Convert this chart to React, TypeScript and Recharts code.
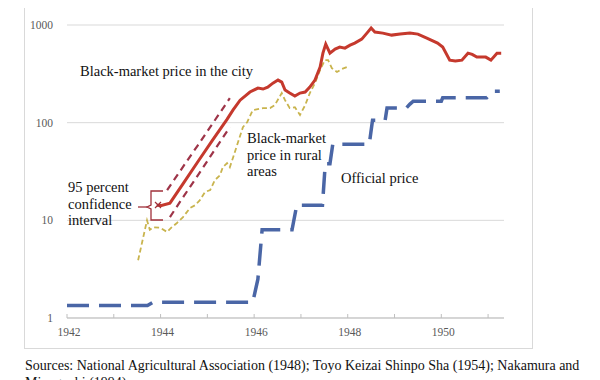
import React from "react"
import { CartesianGrid, Line, LineChart, XAxis, YAxis } from "recharts"

type Pt = { t: number, v: number }

const xTicks = [1942, 1943, 1944, 1945, 1946, 1947, 1948, 1949, 1950, 1951]
const yTicks = [1, 10, 100, 1000]

// black-market price in the city
const cityPrice: Pt[] = [
    { t: 1943.92, v: 14.3 }, { t: 1944.02, v: 14.2 }, { t: 1944.2, v: 15.0 },
    { t: 1944.5, v: 24.5 }, { t: 1944.8, v: 40 }, { t: 1945.1, v: 65 },
    { t: 1945.42, v: 108 }, { t: 1945.55, v: 135 }, { t: 1945.7, v: 170 },
    { t: 1945.91, v: 206 }, { t: 1946.08, v: 226 }, { t: 1946.19, v: 221 },
    { t: 1946.29, v: 231 }, { t: 1946.4, v: 254 }, { t: 1946.51, v: 273 },
    { t: 1946.59, v: 260 }, { t: 1946.66, v: 216 }, { t: 1946.76, v: 201 },
    { t: 1946.87, v: 187 }, { t: 1946.98, v: 201 }, { t: 1947.09, v: 206 },
    { t: 1947.19, v: 231 }, { t: 1947.3, v: 273 }, { t: 1947.41, v: 371 },
    { t: 1947.47, v: 515 }, { t: 1947.53, v: 638 }, { t: 1947.62, v: 515 },
    { t: 1947.73, v: 567 }, { t: 1947.83, v: 594 }, { t: 1947.94, v: 580 },
    { t: 1948.05, v: 622 }, { t: 1948.15, v: 653 }, { t: 1948.3, v: 717 },
    { t: 1948.41, v: 826 }, { t: 1948.5, v: 930 }, { t: 1948.58, v: 846 },
    { t: 1948.75, v: 826 }, { t: 1948.94, v: 788 }, { t: 1949.12, v: 807 },
    { t: 1949.33, v: 826 }, { t: 1949.5, v: 807 }, { t: 1949.69, v: 734 },
    { t: 1949.92, v: 653 }, { t: 1950.03, v: 594 }, { t: 1950.18, v: 437 },
    { t: 1950.3, v: 427 }, { t: 1950.44, v: 437 }, { t: 1950.57, v: 515 },
    { t: 1950.66, v: 500 }, { t: 1950.76, v: 469 }, { t: 1950.95, v: 469 },
    { t: 1951.06, v: 437 }, { t: 1951.19, v: 515 }, { t: 1951.28, v: 515 },
]

// 95 percent confidence interval
const ciUpper: Pt[] = [
    { t: 1944.14, v: 20.4 }, { t: 1944.5, v: 36.5 }, { t: 1944.8, v: 59 },
    { t: 1945.1, v: 96 }, { t: 1945.48, v: 178 },
]
const ciLower: Pt[] = [
    { t: 1944.2, v: 10.8 }, { t: 1944.5, v: 17.8 }, { t: 1944.8, v: 29 },
    { t: 1945.1, v: 48 }, { t: 1945.48, v: 90 },
]

// black-market price in rural areas
const ruralPrice: Pt[] = [
    { t: 1943.52, v: 3.9 }, { t: 1943.71, v: 10.0 }, { t: 1943.77, v: 8.0 },
    { t: 1943.84, v: 8.5 }, { t: 1943.99, v: 8.4 }, { t: 1944.14, v: 7.6 },
    { t: 1944.24, v: 8.5 }, { t: 1944.35, v: 9.4 }, { t: 1944.48, v: 10.8 },
    { t: 1944.63, v: 13.4 }, { t: 1944.74, v: 14.3 }, { t: 1944.84, v: 16.1 },
    { t: 1944.95, v: 19.5 }, { t: 1945.06, v: 20.4 }, { t: 1945.16, v: 25.8 },
    { t: 1945.27, v: 29 }, { t: 1945.33, v: 35 }, { t: 1945.42, v: 38.5 },
    { t: 1945.48, v: 35 }, { t: 1945.55, v: 44 }, { t: 1945.65, v: 62 },
    { t: 1945.76, v: 90 }, { t: 1945.85, v: 101 }, { t: 1945.97, v: 134 },
    { t: 1946.19, v: 141 }, { t: 1946.34, v: 141 }, { t: 1946.44, v: 151 },
    { t: 1946.59, v: 201 }, { t: 1946.66, v: 170 }, { t: 1946.76, v: 141 },
    { t: 1946.87, v: 144 }, { t: 1946.98, v: 120 }, { t: 1947.09, v: 151 },
    { t: 1947.19, v: 201 }, { t: 1947.3, v: 254 }, { t: 1947.41, v: 347 },
    { t: 1947.51, v: 437 }, { t: 1947.58, v: 437 }, { t: 1947.66, v: 362 },
    { t: 1947.77, v: 330 }, { t: 1947.88, v: 355 }, { t: 1947.98, v: 371 },
]

// official price
const officialPrice: Pt[] = [
    { t: 1942.0, v: 1.34 }, { t: 1943.72, v: 1.34 }, { t: 1943.84, v: 1.45 },
    { t: 1945.97, v: 1.45 }, { t: 1946.08, v: 2.5 }, { t: 1946.17, v: 8 },
    { t: 1946.81, v: 8 }, { t: 1946.91, v: 14.3 }, { t: 1947.46, v: 14.3 },
    { t: 1947.52, v: 38 }, { t: 1947.62, v: 38 }, { t: 1947.68, v: 60 },
    { t: 1948.46, v: 60 }, { t: 1948.53, v: 106 }, { t: 1948.8, v: 106 },
    { t: 1948.84, v: 141 }, { t: 1949.25, v: 141 }, { t: 1949.33, v: 155 },
    { t: 1949.4, v: 166 }, { t: 1950.0, v: 166 }, { t: 1950.03, v: 180 },
    { t: 1950.97, v: 180 }, { t: 1951.1, v: 210 }, { t: 1951.25, v: 210 },
]

const font = "Liberation Serif, DejaVu Serif, serif"

const XTick = (props: any) => {
    const { x, y, payload } = props
    return (
        <g>
            <line x1={x} x2={x} y1={y - 4} y2={y} stroke="#bfbfbf" />
            {payload.value % 2 === 0 &&
                <text x={x + 2} y={y + 18} textAnchor="middle" fill="#595959"
                    style={{ fontFamily: font, fontSize: 11.5 }}>
                    {payload.value}
                </text>}
        </g>
    )
}

const YTick = (props: any) => {
    const { x, y, payload } = props
    return (
        <text x={x} y={y} dy="0.35em" textAnchor="end" fill="#595959"
            style={{ fontFamily: font, fontSize: 11.5 }}>
            {payload.value}
        </text>
    )
}

const note = { fontFamily: font, fontSize: 14.5 }
const src = { fontFamily: font, fontSize: 14 }

const App = () => {
    return (
        <div style={{ position: "relative", width: 600, height: 380, margin: "-8px 0 0 -8px", overflow: "hidden" }}>
            <LineChart
                width={600}
                height={380}
                margin={{ top: 25, right: 96, bottom: 32, left: 27 }}
            >
                <CartesianGrid vertical={false} stroke="#d9d9d9" />
                <XAxis
                    type="number"
                    dataKey="t"
                    domain={[1942, 1951.34]}
                    ticks={xTicks}
                    interval={0}
                    height={30}
                    tickSize={0}
                    tickMargin={0}
                    tickLine={false}
                    axisLine={{ stroke: "#bfbfbf" }}
                    tick={<XTick />}
                    allowDataOverflow
                />
                <YAxis
                    type="number"
                    scale="log"
                    domain={[1, 1000]}
                    ticks={yTicks}
                    interval={0}
                    width={40}
                    axisLine={false}
                    tickLine={false}
                    tickSize={6}
                    tickMargin={8}
                    tick={<YTick />}
                    allowDataOverflow
                />
                <Line data={ruralPrice} dataKey="v" type="linear" stroke="#c9b44e" strokeWidth={1.8}
                    strokeDasharray="5 3" dot={false} isAnimationActive={false} />
                <Line data={ciUpper} dataKey="v" type="linear" stroke="#9e3448" strokeWidth={2.2}
                    strokeDasharray="7 5" dot={false} isAnimationActive={false} />
                <Line data={ciLower} dataKey="v" type="linear" stroke="#9e3448" strokeWidth={2.2}
                    strokeDasharray="7 5" dot={false} isAnimationActive={false} />
                <Line data={officialPrice} dataKey="v" type="linear" stroke="#4a66a6" strokeWidth={3.5}
                    strokeDasharray="22 10" dot={false} isAnimationActive={false} />
                <Line data={cityPrice} dataKey="v" type="linear" stroke="#c5392d" strokeWidth={3}
                    dot={false} isAnimationActive={false} />
            </LineChart>
            <svg width={600} height={380} style={{ position: "absolute", left: 0, top: 0, pointerEvents: "none" }}>
                <rect x={24.5} y={6.5} width={508} height={342} fill="none" stroke="#d9d9d9" />
                <path d="M163 191 H151 V205 L147 207 L151 209 V220 H163" fill="none" stroke="#a0303a" strokeWidth={1.3} />
                <line x1={138} x2={147} y1={207} y2={207} stroke="#a0303a" strokeWidth={1.3} />
                <path d="M155 202 L161 208 M155 208 L161 202" stroke="#a0303a" strokeWidth={1.2} />
                <g fill="#111">
                    <text x={80} y={76} style={note}>Black-market price in the city</text>
                    <text x={247} y={143} style={note}>Black-market</text>
                    <text x={247} y={159.5} style={note}>price in rural</text>
                    <text x={247} y={176} style={note}>areas</text>
                    <text x={341} y={183} style={note}>Official price</text>
                    <text x={68} y={192} style={note}>95 percent</text>
                    <text x={68} y={208.5} style={note}>confidence</text>
                    <text x={68} y={225} style={note}>interval</text>
                </g>
                <g fill="#111">
                    <text x={25} y={370} style={src}>Sources: National Agricultural Association (1948); Toyo Keizai Shinpo Sha (1954); Nakamura and</text>
                    <text x={25} y={387} style={src}>Mizoguchi (1994).</text>
                </g>
            </svg>
        </div>
    )
}

export default App
